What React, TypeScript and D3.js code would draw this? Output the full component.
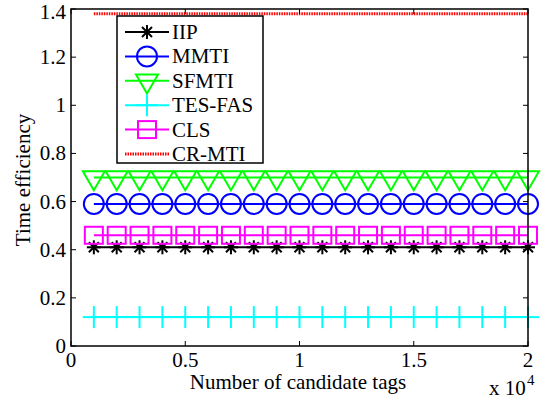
import React from "react";
import * as d3 from "d3";

const xs = [1000,2000,3000,4000,5000,6000,7000,8000,9000,10000,11000,12000,13000,14000,15000,16000,17000,18000,19000,20000];
const iip = [0.41,0.41,0.41,0.41,0.41,0.41,0.41,0.41,0.41,0.41,0.41,0.41,0.41,0.41,0.41,0.41,0.41,0.41,0.41,0.41];
const mmti = [0.59,0.59,0.59,0.59,0.59,0.59,0.59,0.59,0.59,0.59,0.59,0.59,0.59,0.59,0.59,0.59,0.59,0.59,0.59,0.59];
const sfmti = [0.70,0.70,0.70,0.70,0.70,0.70,0.70,0.70,0.70,0.70,0.70,0.70,0.70,0.70,0.70,0.70,0.70,0.70,0.70,0.70];
const tesfas = [0.12,0.12,0.12,0.12,0.12,0.12,0.12,0.12,0.12,0.12,0.12,0.12,0.12,0.12,0.12,0.12,0.12,0.12,0.12,0.12];
const cls = [0.46,0.46,0.46,0.46,0.46,0.46,0.46,0.46,0.46,0.46,0.46,0.46,0.46,0.46,0.46,0.46,0.46,0.46,0.46,0.46];
const crmti = [1.38,1.38,1.38,1.38,1.38,1.38,1.38,1.38,1.38,1.38,1.38,1.38,1.38,1.38,1.38,1.38,1.38,1.38,1.38,1.38];

const xTicks = [0, 5000, 10000, 15000, 20000];
const xTickLabels = ["0", "0.5", "1", "1.5", "2"];
const yTicks = [0, 0.2, 0.4, 0.6, 0.8, 1, 1.2, 1.4];
const yTickLabels = ["0", "0.2", "0.4", "0.6", "0.8", "1", "1.2", "1.4"];

type Marker = "star" | "circle" | "tri" | "plus" | "square" | "none";
const series: { name: string; values: number[]; color: string; marker: Marker; dotted?: boolean }[] = [
  { name: "IIP", values: iip, color: "#000000", marker: "star" },
  { name: "MMTI", values: mmti, color: "#0000ff", marker: "circle" },
  { name: "SFMTI", values: sfmti, color: "#00ff00", marker: "tri" },
  { name: "TES-FAS", values: tesfas, color: "#00ffff", marker: "plus" },
  { name: "CLS", values: cls, color: "#ff00ff", marker: "square" },
  { name: "CR-MTI", values: crmti, color: "#ff0000", marker: "none", dotted: true },
];

const FONT = "'Liberation Serif', 'Times New Roman', serif";

function MarkerShape({ kind, x, y, color }: { kind: Marker; x: number; y: number; color: string }) {
  const sw = 2;
  if (kind === "circle") return <circle cx={x} cy={y} r={10} fill="none" stroke={color} strokeWidth={sw} />;
  if (kind === "square") return <rect x={x - 9} y={y - 8.5} width={18} height={17} fill="none" stroke={color} strokeWidth={sw} />;
  if (kind === "tri") {
    const p = `${x - 11},${y - 6.3} ${x + 11},${y - 6.3} ${x},${y + 12.7}`;
    return <polygon points={p} fill="none" stroke={color} strokeWidth={sw} />;
  }
  if (kind === "plus") {
    return <g stroke={color} strokeWidth={sw}><line x1={x - 11} y1={y} x2={x + 11} y2={y} /><line x1={x} y1={y - 11} x2={x} y2={y + 11} /></g>;
  }
  if (kind === "star") {
    const r = 7, d = 5;
    return <g stroke={color} strokeWidth={sw}>
      <line x1={x - r} y1={y} x2={x + r} y2={y} />
      <line x1={x} y1={y - r} x2={x} y2={y + r} />
      <line x1={x - d} y1={y - d} x2={x + d} y2={y + d} />
      <line x1={x - d} y1={y + d} x2={x + d} y2={y - d} />
    </g>;
  }
  return null;
}

export default function App() {
  const W = 543, H = 400;
  const L = 71, R = 528, T = 9, B = 346;
  const x = d3.scaleLinear().domain([0, 20000]).range([L, R]);
  const y = d3.scaleLinear().domain([0, 1.4]).range([B, T]);
  const line = d3.line<number>().x((_, i) => x(xs[i])).y((v) => y(v));
  const tl = 5;

  const legX = 117, legY = 16, legW = 146, legH = 147;
  return (
    <svg width={W} height={H} style={{ position: "absolute", left: 0, top: 0 }} fontFamily={FONT}>
      <rect x={0} y={0} width={W} height={H} fill="#fff" />
      {series.map((s) => (
        <g key={s.name}>
          <path d={line(s.values) || ""} fill="none" stroke={s.color} strokeWidth={s.dotted ? 3 : 2}
            strokeDasharray={s.dotted ? "1.5,1" : undefined} />
          {s.marker !== "none" && s.values.map((v, i) => (
            <MarkerShape key={i} kind={s.marker} x={x(xs[i])} y={y(v)} color={s.color} />
          ))}
        </g>
      ))}
      <rect x={L} y={T} width={R - L} height={B - T} fill="none" stroke="#000" strokeWidth={1.5} />
      {xTicks.map((t, i) => (
        <g key={"xt" + i}>
          <line x1={x(t)} x2={x(t)} y1={B} y2={B - tl} stroke="#000" strokeWidth={1} />
          <line x1={x(t)} x2={x(t)} y1={T} y2={T + tl} stroke="#000" strokeWidth={1} />
          <text x={x(t)} y={367} fontSize={21} textAnchor="middle">{xTickLabels[i]}</text>
        </g>
      ))}
      {yTicks.map((t, i) => (
        <g key={"yt" + i}>
          <line x1={L} x2={L + tl} y1={y(t)} y2={y(t)} stroke="#000" strokeWidth={1} />
          <line x1={R} x2={R - tl} y1={y(t)} y2={y(t)} stroke="#000" strokeWidth={1} />
          <text x={66} y={Math.max(y(t) + 7, 19)} fontSize={21} textAnchor="end">{yTickLabels[i]}</text>
        </g>
      ))}
      <text x={298} y={389} fontSize={21} textAnchor="middle">Number of candidate tags</text>
      <text transform={`translate(30,180) rotate(-90)`} fontSize={21} textAnchor="middle">Time efficiency</text>
      <text x={489} y={395} fontSize={21}>x 10</text>
      <text x={527} y={385} fontSize={15}>4</text>
      <rect x={legX} y={legY} width={legW} height={legH} fill="#fff" stroke="#000" strokeWidth={1.5} />
      {series.map((s, i) => {
        const ly = 32 + i * 24.4;
        return (
          <g key={"lg" + s.name}>
            <line x1={125} x2={169} y1={ly} y2={ly} stroke={s.color} strokeWidth={s.dotted ? 3 : 2}
              strokeDasharray={s.dotted ? "1.5,1" : undefined} />
            {s.marker !== "none" && <MarkerShape kind={s.marker} x={147} y={ly} color={s.color} />}
            <text x={172} y={ly + 7} fontSize={21}>{s.name}</text>
          </g>
        );
      })}
    </svg>
  );
}
